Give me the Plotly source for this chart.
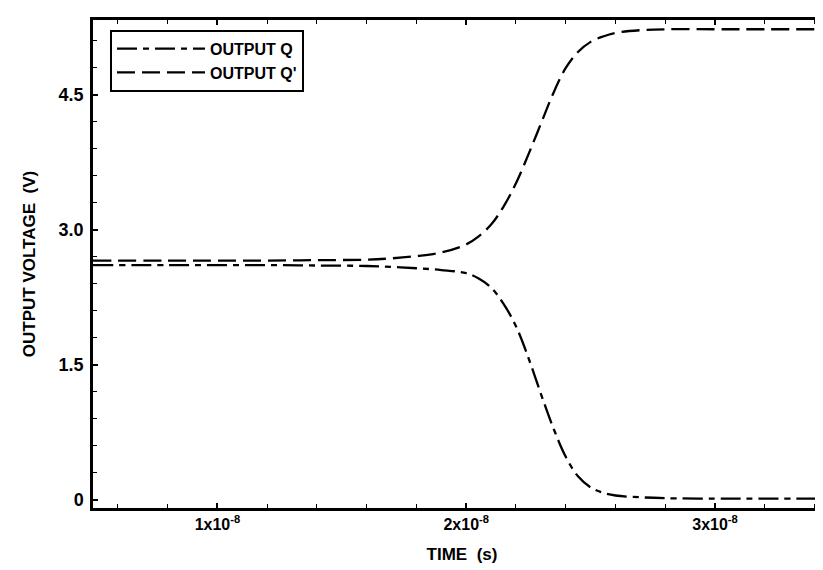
import plotly.graph_objects as go

# Time (s)
time_s = [0.5e-8, 0.8e-8, 1.0e-8, 1.2e-8, 1.4e-8, 1.6e-8, 1.7e-8, 1.8e-8, 1.9e-8, 2.0e-8,
          2.05e-8, 2.1e-8, 2.15e-8, 2.2e-8, 2.25e-8, 2.3e-8, 2.35e-8, 2.4e-8, 2.45e-8,
          2.5e-8, 2.55e-8, 2.6e-8, 2.7e-8, 2.8e-8, 3.0e-8, 3.2e-8, 3.47e-8]
# Output Q' (dashed)
q_prime = [2.66, 2.66, 2.66, 2.66, 2.665, 2.67, 2.685, 2.71, 2.75, 2.84,
           2.93, 3.06, 3.26, 3.52, 3.84, 4.18, 4.52, 4.80, 4.98,
           5.09, 5.15, 5.19, 5.22, 5.23, 5.23, 5.23, 5.23]
# Output Q (dash-dot)
q_out = [2.61, 2.61, 2.61, 2.61, 2.605, 2.60, 2.59, 2.575, 2.555, 2.52,
         2.46, 2.36, 2.18, 1.93, 1.58, 1.18, 0.80, 0.48, 0.26,
         0.14, 0.08, 0.05, 0.03, 0.02, 0.015, 0.015, 0.015]

x_tickvals = [1e-8, 2e-8, 3e-8]
x_ticktext = ["1x10<sup>-8</sup>", "2x10<sup>-8</sup>", "3x10<sup>-8</sup>"]
y_tickvals = [0, 1.5, 3.0, 4.5]
y_ticktext = ["0", "1.5", "3.0", "4.5"]

FONT = "Liberation Sans, Arial, sans-serif"

fig = go.Figure()
fig.add_trace(go.Scatter(x=time_s, y=q_out, mode="lines", name="OUTPUT Q",
                         line=dict(color="black", width=2.3, dash="20px,6px,6px,6px", shape="spline")))
fig.add_trace(go.Scatter(x=time_s, y=q_prime, mode="lines", name="OUTPUT Q'",
                         line=dict(color="black", width=2.3, dash="18px,7px", shape="spline")))

fig.update_layout(
    width=823, height=570,
    margin=dict(l=85, r=0, t=12, b=70),
    paper_bgcolor="white", plot_bgcolor="white",
    font=dict(family=FONT, size=16, color="black", weight="bold"),
    showlegend=True,
    legend=dict(x=0.023, y=0.98, xanchor="left", yanchor="top",
                bordercolor="black", borderwidth=2, bgcolor="white",
                itemwidth=88, font=dict(family=FONT, size=16, color="black", weight="bold"),
                tracegroupgap=0),
    xaxis=dict(range=[0.5e-8, 3.466e-8], tickvals=x_tickvals, ticktext=x_ticktext,
               ticks="inside", ticklen=5, tickwidth=1.5, tickcolor="black",
               showline=True, linecolor="black", linewidth=2.5, mirror="ticks",
               showgrid=False, zeroline=False,
               minor=dict(dtick=0.2e-8, ticks="inside", ticklen=4, tickcolor="black", tickwidth=1.2),
               title=dict(text="TIME  (s)", standoff=17,
                          font=dict(size=17, family=FONT, weight="bold")),
               tickfont=dict(size=16, family=FONT, weight="bold")),
    yaxis=dict(range=[-0.089, 5.333], tickvals=y_tickvals, ticktext=y_ticktext,
               ticks="inside", ticklen=5, tickwidth=1.5, tickcolor="black",
               showline=True, linecolor="black", linewidth=2.5,
               showgrid=False, zeroline=False, ticklabelstandoff=3,
               minor=dict(tick0=0, dtick=0.3, ticks="inside", ticklen=4, tickcolor="black", tickwidth=1.2),
               title=dict(text="OUTPUT VOLTAGE  (V)", standoff=19,
                          font=dict(size=17, family=FONT, weight="bold")),
               tickfont=dict(size=18, family=FONT, weight="bold")),
)

fig.write_html("out.html")
